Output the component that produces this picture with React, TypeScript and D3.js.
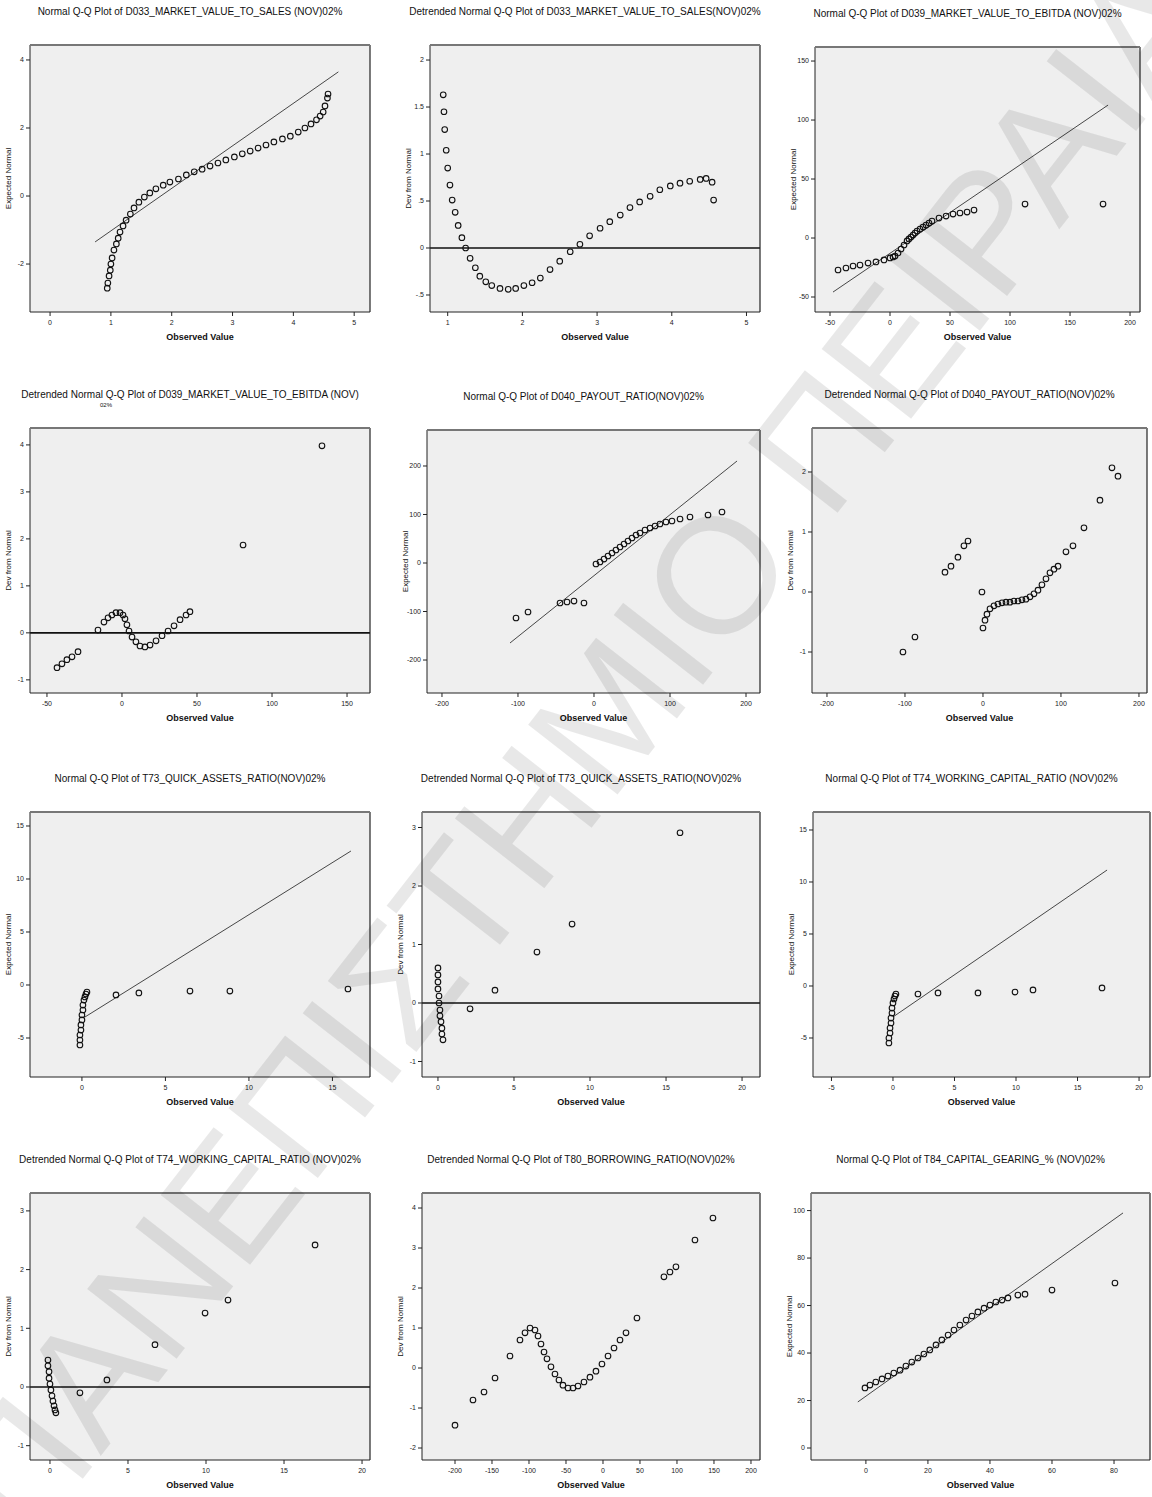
import React from 'react';
import * as d3 from 'd3';

type Pt = [number, number];

// ---------- data ----------
const titles: string[] = [
  'Normal Q-Q Plot of D033_MARKET_VALUE_TO_SALES (NOV)02%',
  'Detrended Normal Q-Q Plot of D033_MARKET_VALUE_TO_SALES(NOV)02%',
  'Normal Q-Q Plot of D039_MARKET_VALUE_TO_EBITDA (NOV)02%',
  'Detrended Normal Q-Q Plot of D039_MARKET_VALUE_TO_EBITDA (NOV)',
  'Normal Q-Q Plot of D040_PAYOUT_RATIO(NOV)02%',
  'Detrended Normal Q-Q Plot of D040_PAYOUT_RATIO(NOV)02%',
  'Normal Q-Q Plot of T73_QUICK_ASSETS_RATIO(NOV)02%',
  'Detrended Normal Q-Q Plot of T73_QUICK_ASSETS_RATIO(NOV)02%',
  'Normal Q-Q Plot of T74_WORKING_CAPITAL_RATIO (NOV)02%',
  'Detrended Normal Q-Q Plot of T74_WORKING_CAPITAL_RATIO (NOV)02%',
  'Detrended Normal Q-Q Plot of T80_BORROWING_RATIO(NOV)02%',
  'Normal Q-Q Plot of T84_CAPITAL_GEARING_% (NOV)02%',
];

const p1Points: Pt[] = [[0.94,-2.71],[0.95,-2.56],[0.97,-2.35],[0.99,-2.18],[1.00,-2.00],[1.02,-1.82],[1.05,-1.59],[1.09,-1.41],[1.12,-1.24],[1.15,-1.06],[1.20,-0.88],[1.25,-0.71],[1.32,-0.53],[1.38,-0.35],[1.46,-0.18],[1.55,-0.03],[1.64,0.09],[1.74,0.21],[1.86,0.32],[1.97,0.41],[2.11,0.50],[2.24,0.62],[2.37,0.71],[2.50,0.79],[2.63,0.88],[2.76,0.97],[2.89,1.06],[3.03,1.15],[3.16,1.24],[3.29,1.32],[3.42,1.41],[3.55,1.50],[3.68,1.59],[3.82,1.68],[3.95,1.76],[4.08,1.88],[4.19,2.00],[4.29,2.12],[4.38,2.24],[4.44,2.35],[4.49,2.47],[4.52,2.65],[4.56,2.88],[4.57,3.00]];
const p1Line: Pt[] = [[0.74,-1.35],[4.74,3.65]];

const p2Points: Pt[] = [[0.94,1.63],[0.95,1.45],[0.96,1.26],[0.98,1.04],[1.00,0.85],[1.03,0.67],[1.06,0.51],[1.10,0.38],[1.14,0.24],[1.19,0.11],[1.24,0.00],[1.30,-0.11],[1.37,-0.21],[1.43,-0.30],[1.51,-0.36],[1.59,-0.40],[1.70,-0.43],[1.81,-0.44],[1.91,-0.43],[2.02,-0.40],[2.13,-0.37],[2.24,-0.32],[2.37,-0.23],[2.50,-0.14],[2.64,-0.04],[2.77,0.04],[2.90,0.13],[3.04,0.21],[3.17,0.28],[3.31,0.35],[3.44,0.43],[3.57,0.49],[3.71,0.55],[3.84,0.62],[3.98,0.66],[4.11,0.69],[4.24,0.71],[4.38,0.73],[4.46,0.74],[4.54,0.70],[4.56,0.51]];

const p3Points: Pt[] = [[-43.3,-27.1],[-36.7,-25.4],[-30.8,-23.7],[-25.0,-22.9],[-18.3,-21.2],[-11.7,-20.3],[-5.0,-18.6],[0,-16.9],[2.5,-16.1],[4.2,-15.3],[6.7,-12.7],[9.2,-9.3],[11.7,-5.9],[14.2,-2.5],[15.8,-0.8],[17.5,0.8],[19.2,2.5],[20.8,4.2],[22.5,5.9],[25.0,7.6],[27.5,9.3],[30.0,11.0],[32.5,12.7],[35.0,14.4],[40.8,16.9],[46.7,18.6],[52.5,20.3],[58.3,21.2],[64.2,22.0],[70.0,23.7],[112.5,28.8],[177.5,28.8]];
const p3Line: Pt[] = [[-47.5,-45.8],[181.7,112.7]];

const p4Points: Pt[] = [[-43.3,-0.74],[-40.0,-0.66],[-36.7,-0.57],[-33.3,-0.51],[-29.3,-0.40],[-16.0,0.06],[-12.0,0.23],[-9.3,0.32],[-6.7,0.38],[-4.0,0.43],[-1.3,0.43],[0.7,0.38],[2.0,0.30],[3.3,0.17],[4.7,0.04],[6.7,-0.09],[9.3,-0.19],[12.0,-0.28],[15.3,-0.30],[18.7,-0.26],[22.7,-0.17],[26.7,-0.06],[30.7,0.04],[34.7,0.15],[38.7,0.28],[42.7,0.38],[45.3,0.45],[80.7,1.87],[133.3,3.98]];

const p5Points: Pt[] = [[-102.6,-113.4],[-86.8,-101.0],[-44.7,-82.5],[-35.5,-80.4],[-26.3,-78.4],[-13.2,-82.5],[2.6,-2.1],[7.9,2.1],[13.2,8.2],[18.4,14.4],[23.7,20.6],[28.9,26.8],[34.2,33.0],[39.5,39.2],[44.7,45.4],[50.0,51.5],[55.3,57.7],[60.5,61.9],[67.1,68.0],[73.7,72.2],[80.3,76.3],[86.8,80.4],[94.7,84.5],[102.6,86.6],[113.2,90.7],[126.3,94.8],[150.0,99.0],[168.4,105.2]];
const p5Line: Pt[] = [[-110.5,-164.9],[188.2,210.3]];

const p6Points: Pt[] = [[-102.6,-1.00],[-87.2,-0.75],[-48.7,0.33],[-41.0,0.43],[-32.1,0.58],[-24.4,0.77],[-19.2,0.85],[-1.3,0.00],[0.0,-0.60],[2.6,-0.47],[5.1,-0.37],[9.0,-0.28],[14.1,-0.23],[19.2,-0.20],[24.4,-0.18],[29.5,-0.17],[34.6,-0.17],[39.7,-0.15],[44.9,-0.15],[50.0,-0.13],[55.1,-0.12],[60.3,-0.08],[65.4,-0.03],[70.5,0.03],[75.6,0.12],[80.8,0.22],[85.9,0.32],[91.0,0.38],[96.2,0.43],[106.4,0.67],[115.4,0.77],[129.5,1.07],[150.0,1.53],[165.4,2.07],[173.1,1.93]];

const p7Points: Pt[] = [[-0.12,-5.66],[-0.12,-5.19],[-0.12,-4.72],[-0.06,-4.25],[-0.06,-3.77],[0,-3.30],[0,-2.83],[0.06,-2.36],[0.06,-1.89],[0.12,-1.42],[0.18,-1.13],[0.24,-0.85],[0.30,-0.66],[2.04,-0.94],[3.41,-0.75],[6.47,-0.57],[8.86,-0.57],[15.93,-0.38]];
const p7Line: Pt[] = [[0.18,-3.02],[16.11,12.64]];

const p8Points: Pt[] = [[0,0.60],[0,0.48],[0,0.36],[0,0.24],[0.07,0.12],[0.07,0],[0.13,-0.12],[0.13,-0.22],[0.20,-0.32],[0.26,-0.43],[0.26,-0.53],[0.33,-0.63],[2.11,-0.10],[3.75,0.22],[6.51,0.87],[8.82,1.35],[15.92,2.91]];

const p9Points: Pt[] = [[-0.33,-5.48],[-0.33,-5.0],[-0.24,-4.52],[-0.24,-4.04],[-0.16,-3.56],[-0.16,-3.08],[-0.08,-2.60],[-0.08,-2.12],[0,-1.63],[0.08,-1.25],[0.16,-0.96],[0.24,-0.77],[2.03,-0.77],[3.66,-0.67],[6.91,-0.67],[9.92,-0.58],[11.38,-0.38],[16.99,-0.19]];
const p9Line: Pt[] = [[0,-2.98],[17.40,11.15]];

const p10Points: Pt[] = [[-0.13,0.46],[-0.13,0.36],[-0.06,0.26],[-0.06,0.15],[0,0.05],[0.06,-0.05],[0.13,-0.15],[0.19,-0.24],[0.26,-0.32],[0.32,-0.39],[0.38,-0.44],[1.92,-0.10],[3.65,0.12],[6.73,0.72],[9.94,1.26],[11.41,1.48],[16.99,2.42]];

const p11Points: Pt[] = [[-200.0,-1.43],[-175.7,-0.80],[-160.8,-0.60],[-145.9,-0.25],[-125.7,0.30],[-112.2,0.70],[-105.4,0.88],[-98.6,1.00],[-91.9,0.95],[-87.8,0.80],[-83.8,0.60],[-79.7,0.40],[-75.7,0.23],[-70.3,0.03],[-64.9,-0.15],[-59.5,-0.30],[-54.1,-0.43],[-47.3,-0.50],[-40.5,-0.50],[-33.8,-0.45],[-25.7,-0.35],[-17.6,-0.23],[-9.5,-0.08],[-1.4,0.10],[6.8,0.30],[14.9,0.50],[23.0,0.70],[31.1,0.88],[45.9,1.25],[82.4,2.28],[90.5,2.40],[98.6,2.53],[124.3,3.20],[148.6,3.75]];

const p12Points: Pt[] = [[-0.3,25.3],[1.3,26.5],[3.2,27.8],[5.2,29.1],[7.1,30.3],[9.0,31.6],[11.0,32.8],[12.9,34.5],[14.8,36.2],[16.8,37.9],[18.7,39.6],[20.6,41.3],[22.6,43.4],[24.5,45.5],[26.5,47.6],[28.4,49.7],[30.3,51.8],[32.3,53.9],[34.2,55.6],[36.1,57.3],[38.1,58.9],[40.0,60.2],[41.9,61.5],[43.9,62.3],[45.8,63.2],[49.0,64.4],[51.3,64.8],[60.0,66.5],[80.3,69.5]];
const p12Line: Pt[] = [[-2.6,19.4],[82.9,99.0]];

const xTicks: number[][] = [
  [0,1,2,3,4,5],[1,2,3,4,5],[-50,0,50,100,150,200],
  [-50,0,50,100,150],[-200,-100,0,100,200],[-200,-100,0,100,200],
  [0,5,10,15],[0,5,10,15,20],[-5,0,5,10,15,20],
  [0,5,10,15,20],[-200,-150,-100,-50,0,50,100,150,200],[0,20,40,60,80],
];
const yTicks: number[][] = [
  [-2,0,2,4],[-0.5,0,0.5,1,1.5,2],[-50,0,50,100,150],
  [-1,0,1,2,3,4],[-200,-100,0,100,200],[-1,0,1,2],
  [-5,0,5,10,15],[-1,0,1,2,3],[-5,0,5,10,15],
  [-1,0,1,2,3],[-2,-1,0,1,2,3,4],[0,20,40,60,80,100],
];
const xDomains: Pt[] = [
  [-0.33,5.26],[0.763,5.181],[-62.5,208.3],
  [-61.3,165.3],[-219.7,218.4],[-219.2,210.3],
  [-3.11,17.25],[-1.05,21.18],[-6.5,20.89],
  [-1.28,20.51],[-244.6,212.2],[-17.7,91.6],
];
const yDomains: Pt[] = [
  [-3.41,4.44],[-0.681,2.16],[-62.7,161.9],
  [-1.28,4.36],[-268.0,274.2],[-1.683,2.733],
  [-8.68,16.32],[-1.265,3.265],[-8.75,16.73],
  [-1.244,3.305],[-2.3,4.375],[-5.05,107.4],
];
const pointSets: Pt[][] = [p1Points,p2Points,p3Points,p4Points,p5Points,p6Points,p7Points,p8Points,p9Points,p10Points,p11Points,p12Points];
const refLines: (Pt[] | null)[] = [p1Line,null,p3Line,null,p5Line,null,p7Line,null,p9Line,null,null,p12Line];
const zeroLine: boolean[] = [false,true,false,true,false,false,false,true,false,true,false,false];
const detrended: boolean[] = [false,true,false,true,false,true,false,true,false,true,true,false];

const watermark = 'ΠΑΝΕΠΙΣΤΗΜΙΟ ΠΕΙΡΑΙΑ';

// ---------- layout ----------
const boxes: [number, number, number, number][] = [
  [30,45,370,312],[430,45,760,312],[815,47,1140,312],
  [30,428,370,693],[427,430,760,693],[812,428,1147,693],
  [30,812,370,1077],[422,812,760,1077],[813,812,1150,1077],
  [30,1193,370,1460],[422,1193,760,1460],[811,1193,1150,1460],
];

const FONT = '"Liberation Sans", Arial, sans-serif';

function fmt(v: number): string {
  let s = String(v);
  if (Math.abs(v) < 1 && v !== 0) s = s.replace('0.', '.');
  return s;
}

function Panel({ i }: { i: number }) {
  const [x0, y0, x1, y1] = boxes[i];
  const xs = d3.scaleLinear().domain(xDomains[i]).range([x0, x1]);
  const ys = d3.scaleLinear().domain(yDomains[i]).range([y1, y0]);
  const cx = (x0 + x1) / 2;
  const cy = (y0 + y1) / 2;
  const line = d3.line<Pt>().x(d => xs(d[0])).y(d => ys(d[1]));
  const rl = refLines[i];
  return (
    <g>
      <rect x={x0} y={y0} width={x1 - x0} height={y1 - y0} fill="#efefef" />
      {zeroLine[i] && (
        <line x1={x0} x2={x1} y1={ys(0)} y2={ys(0)} stroke="#111" strokeWidth={1.6} />
      )}
      {rl && <path d={line(rl) || ''} stroke="#333" strokeWidth={0.9} fill="none" />}
      {pointSets[i].map((p, k) => (
        <circle key={k} cx={xs(p[0])} cy={ys(p[1])} r={2.8} fill="none" stroke="#111" strokeWidth={1.1} />
      ))}
      <line x1={x0} x2={x0} y1={y0} y2={y1} stroke="#222" strokeWidth={1} />
      <line x1={x1} x2={x1} y1={y0} y2={y1} stroke="#222" strokeWidth={1.2} />
      <line x1={x0} x2={x1} y1={y1} y2={y1} stroke="#222" strokeWidth={1} />
      <line x1={x0} x2={x1} y1={y0} y2={y0} stroke="#777" strokeWidth={2} />
      {yTicks[i].map((t, k) => (
        <g key={'y' + k}>
          <line x1={x0 - 4} x2={x0} y1={ys(t)} y2={ys(t)} stroke="#222" strokeWidth={1} />
          <text x={x0 - 6} y={ys(t)} dy="0.33em" textAnchor="end" fontSize={7} fontFamily={FONT} fill="#222">{fmt(t)}</text>
        </g>
      ))}
      {xTicks[i].map((t, k) => (
        <g key={'x' + k}>
          <line x1={xs(t)} x2={xs(t)} y1={y1} y2={y1 + 4} stroke="#222" strokeWidth={1} />
          <text x={xs(t)} y={y1 + 13} textAnchor="middle" fontSize={7} fontFamily={FONT} fill="#222">{fmt(t)}</text>
        </g>
      ))}
      <text x={cx - 10} y={y0 - 30} textAnchor="middle" fontSize={10} fontFamily={FONT} fill="#111">{titles[i]}</text>
      {i === 3 && (
        <text x={106} y={y0 - 21} textAnchor="middle" fontSize={6} fontFamily={FONT} fill="#111">02%</text>
      )}
      <text x={cx} y={y1 + 28} textAnchor="middle" fontSize={9} fontWeight="bold" fontFamily={FONT} fill="#111">Observed Value</text>
      <text transform={`translate(${x0 - 19},${cy}) rotate(-90)`} textAnchor="middle" fontSize={8} fontFamily={FONT} fill="#111">
        {detrended[i] ? 'Dev from Normal' : 'Expected Normal'}
      </text>
    </g>
  );
}

export default function App() {
  return (
    <svg width={1152} height={1497} style={{ position: 'absolute', left: 0, top: 0, background: '#fff' }}>
      <rect x={0} y={0} width={1152} height={1497} fill="#fff" />
      {boxes.map((_, i) => <Panel key={i} i={i} />)}
      <text
        transform="translate(580,750) rotate(-52)"
        textAnchor="middle"
        dominantBaseline="central"
        fontSize={165}
        fontFamily={FONT}
        fill="#000"
        fillOpacity={0.09}
      >
        {watermark}
      </text>
    </svg>
  );
}
